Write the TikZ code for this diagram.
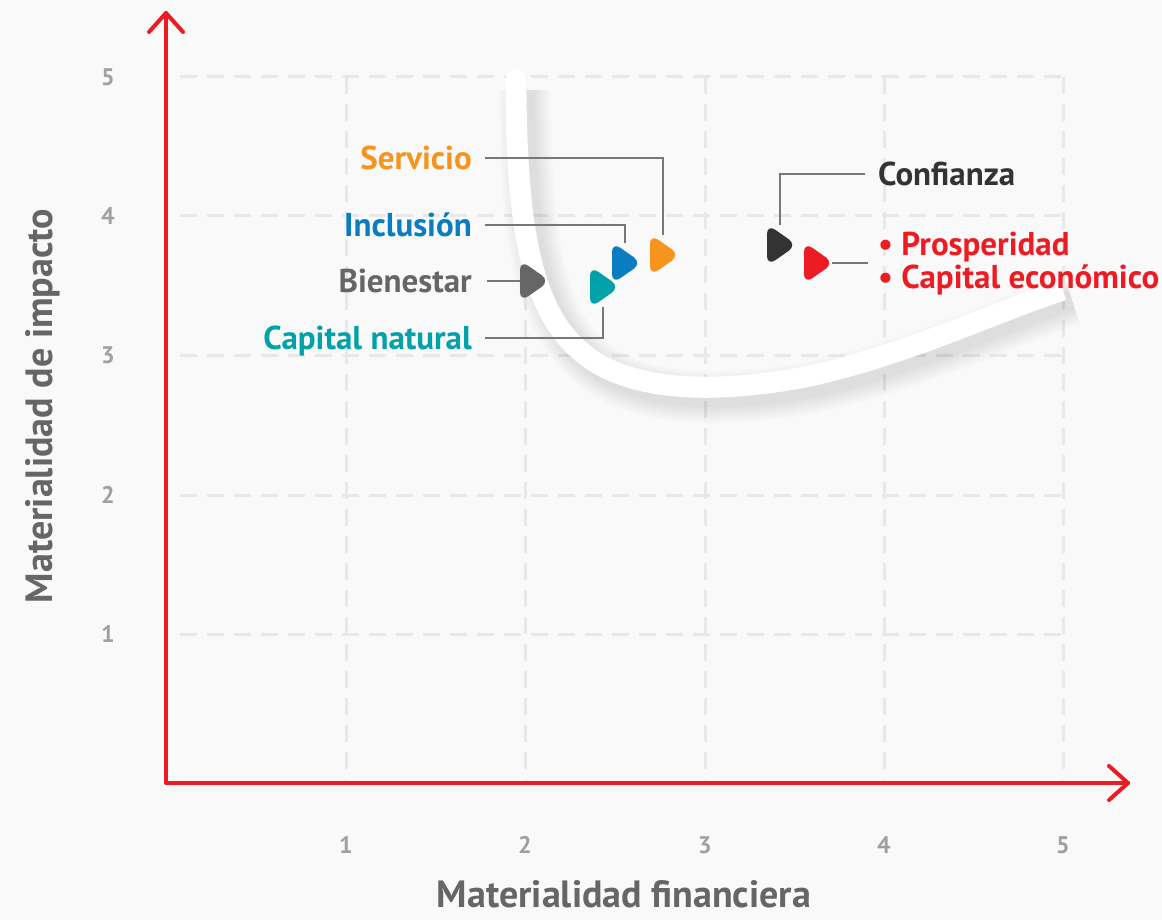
\documentclass[tikz,border=0pt]{standalone}
\usepackage{fontspec}
\setmainfont{PT Sans}
\usetikzlibrary{calc}
\definecolor{bgc}{HTML}{F9F9F9}
\definecolor{gridc}{HTML}{E8E8E8}
\definecolor{axisred}{HTML}{ED1C24}
\definecolor{tickc}{HTML}{A0A0A0}
\definecolor{titlec}{HTML}{666666}
\definecolor{leadc}{HTML}{777777}
\definecolor{cOrange}{HTML}{F7941D}
\definecolor{cBlue}{HTML}{0A7CC1}
\definecolor{cGray}{HTML}{666666}
\definecolor{cTeal}{HTML}{00A1A9}
\definecolor{cBlack}{HTML}{333333}
\definecolor{cRed}{HTML}{ED1C24}
\tikzset{
  gridline/.style={gridc, line width=3pt, dash pattern=on 17pt off 10pt},
  axisline/.style={axisred, line width=4pt, line cap=round, line join=round},
  ticklab/.style={text=tickc, font=\fontsize{24}{28}\selectfont\bfseries, inner sep=0pt},
  axtitle/.style={text=titlec, font=\fontsize{38}{44}\selectfont\bfseries, inner sep=0pt},
  lab/.style={font=\fontsize{33}{37}\selectfont\bfseries, inner sep=0pt, text height=23pt, text depth=0pt},
  leader/.style={leadc, line width=1.5pt},
  pick/.style={minimum width=32pt, minimum height=44pt, inner sep=0pt,
    path picture={\fill[#1, rounded corners=10pt]
      ([shift={(-13,-21)}]path picture bounding box.center) --
      ([shift={(17,0)}]path picture bounding box.center) --
      ([shift={(-13,21)}]path picture bounding box.center) -- cycle;}},
}
\begin{document}
\begin{tikzpicture}[x=1pt,y=-1pt]
\fill[bgc] (0,0) rectangle (1162,920);
\useasboundingbox (0,0) rectangle (1162,920);
% grid
\foreach \yy in {77,216,355,495,634} {\draw[gridline] (180,\yy) -- (1063,\yy);}
\foreach \xx in {346,525,705,884,1063} {\draw[gridline] (\xx,77) -- (\xx,780);}
% curve shadow (soft)
\foreach \w in {52,48,44,40,36,32,28,24,20} {
  \draw[black, opacity=0.011, line width=\w pt, shift={(9,10)}]
    (516,80) .. controls (516,260) and (540,330) .. (600,365)
    .. controls (650,392) and (720,392) .. (800,378)
    .. controls (900,358) and (1000,310) .. (1063,290);
}
% curve
\draw[white, line width=21pt]
    (516,80) .. controls (516,260) and (540,330) .. (600,365)
    .. controls (650,392) and (720,392) .. (800,378)
    .. controls (900,358) and (1000,310) .. (1063,290);
\fill[white] (516,80) circle (10.5pt);
% axes
\coordinate (origin) at (166,783);
\coordinate (ytip) at (166,13);
\coordinate (xtip) at (1128,783);
\draw[axisline] (ytip) -- (origin) -- (xtip);
\draw[axisline] ($(ytip)+(-17,19)$) -- (ytip) -- ($(ytip)+(17,19)$);
\draw[axisline] ($(xtip)+(-19,-17)$) -- (xtip) -- ($(xtip)+(-19,17)$);
% ticks
\foreach \v/\xx in {1/346,2/525,3/705,4/884,5/1063} {\node[ticklab] (xt\v) at (\xx,845) {\v};}
\foreach \v/\yy in {5/77,4/216,3/355,2/495,1/634} {\node[ticklab] (yt\v) at (108,\yy) {\v};}
% titles
\node[axtitle, anchor=base] (xtitle) at (624,907) {Materialidad financiera};
\node[axtitle, anchor=base, rotate=90] (ytitle) at (52,406) {Materialidad de impacto};
% markers
\node[pick=cGray] (mGray) at (533,281) {};
\node[pick=cTeal] (mTeal) at (603,287) {};
\node[pick=cBlue] (mBlue) at (625,263) {};
\node[pick=cOrange] (mOrange) at (663,255) {};
\node[pick=cBlack] (mBlack) at (780,245) {};
\node[pick=cRed] (mRed) at (817,263) {};
% labels
\node[lab, text=cOrange, anchor=east] (servicio) at (472,158) {Servicio};
\node[lab, text=cBlue, anchor=east] (inclusion) at (472,225) {Inclusión};
\node[lab, text=cGray, anchor=east] (bienestar) at (472,281) {Bienestar};
\node[lab, text=cTeal, anchor=east] (capnat) at (472,338) {Capital natural};
\node[lab, text=cBlack, anchor=west] (confianza) at (878,174) {Confianza};
\node[lab, text=cRed, anchor=west] (prosp) at (878,244) {• Prosperidad};
\node[lab, text=cRed, anchor=west] (capeco) at (878,277) {• Capital económico};
\coordinate (redend) at ([xshift=-10pt]$(prosp.west)!0.5!(capeco.west)$);
% leaders
\draw[leader] ([xshift=13pt]servicio.east) -| ([yshift=-2pt]mOrange.north);
\draw[leader] ([xshift=13pt]inclusion.east) -| ([yshift=-2pt]mBlue.north);
\draw[leader] ([xshift=15pt]bienestar.east) -- ([xshift=3pt]mGray.west);
\draw[leader] ([xshift=13pt]capnat.east) -| ([yshift=2pt]mTeal.south);
\draw[leader] ([xshift=-13pt]confianza.west) -| ([yshift=-2pt]mBlack.north);
\draw[leader] ([xshift=-1pt]mRed.east) -- (redend |- mRed.east);
\end{tikzpicture}
\end{document}
